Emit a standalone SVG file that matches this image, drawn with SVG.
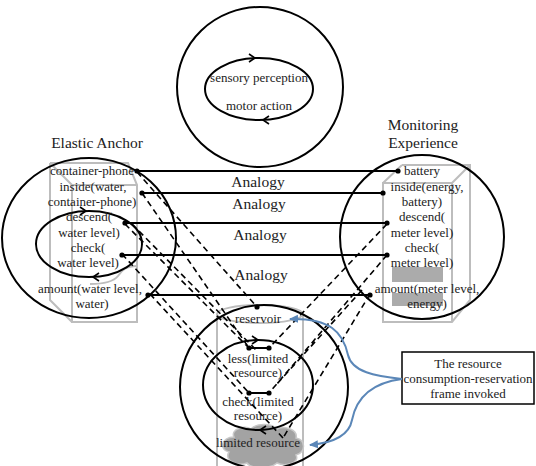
<svg xmlns="http://www.w3.org/2000/svg" width="536" height="466" viewBox="0 0 536 466">
<style>
.t{font-family:"Liberation Serif","DejaVu Serif",serif;font-size:13px;fill:#222;text-anchor:middle}
.h{font-family:"Liberation Serif","DejaVu Serif",serif;font-size:15.5px;fill:#222;text-anchor:middle}
.c{fill:none;stroke:#000;stroke-width:2}
.g{fill:none;stroke:#bdbdbd;stroke-width:2}
.s{stroke:#000;stroke-width:1.8;fill:none}
.d{stroke:#000;stroke-width:1.6;fill:none;stroke-dasharray:6 4}
.b{stroke:#5b87b8;stroke-width:2;fill:none}
.ah{fill:none;stroke:#000;stroke-width:1.6}
</style>
<defs>
<marker id="bl" markerWidth="10" markerHeight="10" refX="8" refY="5" orient="auto" markerUnits="userSpaceOnUse">
<path d="M0,1 L9,5 L0,9 z" fill="#5b87b8"/>
</marker>
</defs>

<!-- gray boxes -->
<g id="box-left">
<path class="g" d="M50,163 H128 L137,185 V322 H72 V185 H137 M50,163 L72,185 M50,163 V300 L72,322"/>
<path class="g" d="M137,266 C126,266 122,270 118,276 C114,281 104,284 90,284"/>
</g>
<g id="box-right">
<path class="g" d="M402,165 H470 V300 L452,322 H383 V183 H452 V322 M402,165 L383,183 M470,165 L452,183"/>
<rect x="392" y="267" width="51" height="15" fill="#ababab"/>
<rect x="392" y="293" width="51" height="13" fill="#ababab"/>
</g>
<g id="cylinder">
<ellipse class="g" cx="260" cy="314" rx="43" ry="9"/>
<path class="g" d="M217,314 V466 M303,314 V466"/>
<path d="M234,437 C230,429 245,425 251,429 C256,423 272,423 277,429 C285,425 298,430 296,438 C306,440 306,452 296,455 C300,463 286,467 277,463 C270,469 251,469 247,463 C236,467 224,460 229,452 C219,450 221,437 234,437 Z" fill="#a3a3a3" stroke="#c8c8c8" stroke-width="1.5"/>
</g>

<!-- circles -->
<g id="top-space">
<ellipse class="c" cx="260" cy="87" rx="83" ry="80"/>
<ellipse class="c" cx="259" cy="89" rx="54" ry="31"/>
<path class="ah" d="M249,54 L255,58 L249,62"/>
<path class="ah" d="M269,116 L263,120 L269,124"/>
<text class="t" x="259" y="82">sensory perception</text>
<text class="t" x="259" y="110">motor action</text>
</g>

<g id="elastic-anchor">
<ellipse class="c" cx="89" cy="238" rx="87" ry="80"/>
<ellipse class="c" cx="89" cy="244" rx="53" ry="33"/>
<path class="ah" d="M80,207 L86,211 L80,215"/>
<path class="ah" d="M99,273 L93,277 L99,281"/>
<text class="h" x="97" y="148">Elastic Anchor</text>
<text class="t" x="92" y="175">container-phone</text>
<text class="t" x="93" y="191">inside(water,</text>
<text class="t" x="92" y="206">container-phone)</text>
<text class="t" x="89" y="221">descend(</text>
<text class="t" x="89" y="237">water level)</text>
<text class="t" x="88" y="252">check(</text>
<text class="t" x="88" y="267">water level)</text>
<text class="t" x="90" y="293">amount(water level,</text>
<text class="t" x="92" y="308">water)</text>
</g>

<g id="monitoring-experience">
<ellipse class="c" cx="422" cy="237" rx="82" ry="82"/>
<text class="h" x="423" y="130">Monitoring</text>
<text class="h" x="423" y="148">Experience</text>
<text class="t" x="422" y="175">battery</text>
<text class="t" x="427" y="191">inside(energy,</text>
<text class="t" x="422" y="206">battery)</text>
<text class="t" x="422" y="221">descend(</text>
<text class="t" x="422" y="237">meter level)</text>
<text class="t" x="422" y="252">check(</text>
<text class="t" x="422" y="267">meter level)</text>
<text class="t" x="427" y="293">amount(meter level,</text>
<text class="t" x="427" y="308">energy)</text>
</g>

<g id="resource-frame">
<ellipse class="c" cx="264" cy="387" rx="84" ry="82"/>
<ellipse class="c" cx="258" cy="385" rx="55" ry="45"/>
<path class="ah" d="M252,336 L258,340 L252,344"/>
<path class="ah" d="M266,426 L260,430 L266,434"/>
<text class="t" x="258" y="323">reservoir</text>
<text class="t" x="258" y="363">less(limited</text>
<text class="t" x="258" y="377">resource)</text>
<text class="t" x="258" y="406">check(limited</text>
<text class="t" x="258" y="420">resource)</text>
<text class="t" x="258" y="447">limited resource</text>
</g>

<g id="note">
<rect x="402" y="352" width="132" height="52" fill="#fff" stroke="#000" stroke-width="1.5"/>
<text class="t" x="468" y="368">The resource</text>
<text class="t" x="468" y="383">consumption-reservation</text>
<text class="t" x="468" y="398">frame invoked</text>
</g>

<!-- connectors -->
<g id="connectors">
<path class="s" d="M137,171 H398 M142,193 H383 M125,223 H387 M122,255 H387 M148,295 H370"/>
<path class="s" d="M249,348 H269 M249,393 H269"/>
<path class="d" d="M137,172 L257,307 M142,193 L249,348 M125,224 L249,348 M132,224 L258,352 M122,254 L249,393 M150,294 L283,438"/>
<path class="d" d="M387,224 L269,348 M387,255 L269,393 M370,294 L283,438 M362,290 L276,385"/>
<g fill="#000">
<circle cx="137" cy="171" r="2.6"/><circle cx="398" cy="171" r="2.6"/>
<circle cx="142" cy="193" r="2.6"/><circle cx="383" cy="193" r="2.6"/>
<circle cx="125" cy="223" r="2.6"/><circle cx="387" cy="223" r="2.6"/>
<circle cx="122" cy="255" r="2.6"/><circle cx="387" cy="255" r="2.6"/>
<circle cx="148" cy="295" r="2.6"/><circle cx="370" cy="295" r="2.6"/>
<circle cx="257" cy="307" r="2.6"/>
<circle cx="249" cy="348" r="2.6"/><circle cx="269" cy="348" r="2.6"/>
<circle cx="249" cy="393" r="2.6"/><circle cx="269" cy="393" r="2.6"/>
</g>
<text class="h" x="258" y="187">Analogy</text>
<text class="h" x="259" y="209">Analogy</text>
<text class="h" x="260" y="240">Analogy</text>
<text class="h" x="261" y="280">Analogy</text>
<path class="b" marker-end="url(#bl)" d="M402,379 C375,376 352,372 348,355 C343,332 330,318 290,319"/>
<path class="b" marker-end="url(#bl)" d="M402,379 C370,383 356,400 352,420 C349,436 332,443 310,445"/>
</g>
</svg>
